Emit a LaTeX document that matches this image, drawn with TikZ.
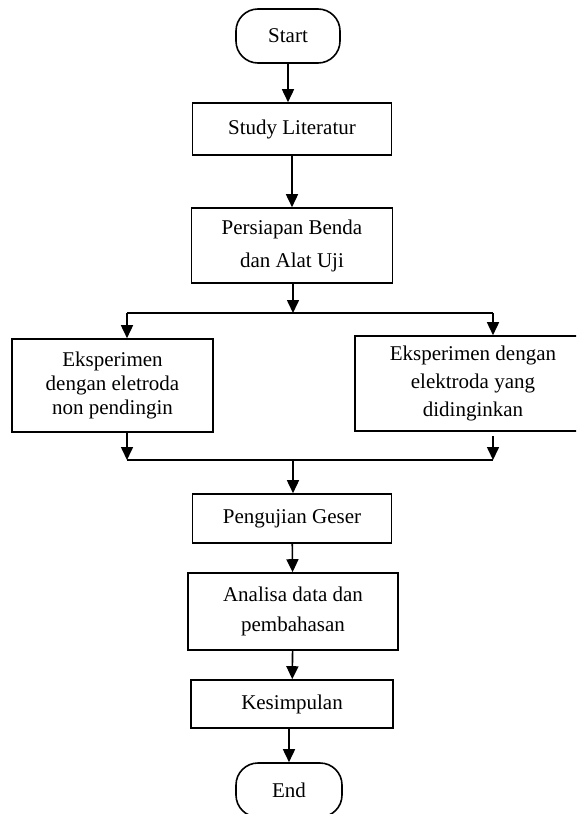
\documentclass[tikz,border=0pt]{standalone}
\usepackage{fontspec}
\setmainfont{Liberation Serif}
\usetikzlibrary{arrows.meta}

\begin{document}
\begin{tikzpicture}[x=1pt,y=-1pt,
    every node/.style={font=\fontsize{21}{24}\selectfont},
    proc/.style={draw,line width=1.6pt,rectangle,align=center,inner sep=0pt},
    term/.style={proc,rounded corners=22pt},
    link/.style={line width=1.6pt},
    flow/.style={link,-{Triangle[length=13pt,width=12pt]}}]
  \useasboundingbox (0,0) rectangle (576,814);
  \clip (0,0) rectangle (576,814);

  \node[term,minimum width=104pt,minimum height=54pt] (start) at (288,36) {Start};
  \node[proc,minimum width=199pt,minimum height=52pt] (study) at (292,129) {Study Literatur};
  \node[proc,minimum width=201pt,minimum height=75pt,font=\fontsize{21}{33}\selectfont] (prep) at (292,245.5) {Persiapan Benda\\dan Alat Uji};
  \node[proc,minimum width=201pt,minimum height=93pt] (expa) at (112.5,385.5) {Eksperimen\\dengan eletroda\\non pendingin};
  \node[proc,minimum width=236pt,minimum height=95pt,font=\fontsize{21}{28}\selectfont] (expb) at (473,383.5) {Eksperimen dengan\\elektroda yang\\didinginkan};
  \node[proc,minimum width=199pt,minimum height=49pt] (test) at (292,518.5) {Pengujian Geser};
  \node[proc,minimum width=210pt,minimum height=77pt,font=\fontsize{21}{30}\selectfont] (anal) at (293,611.5) {Analisa data dan\\pembahasan};
  \node[proc,minimum width=202pt,minimum height=48pt] (concl) at (292,704) {Kesimpulan};
  \node[term,minimum width=106pt,minimum height=54pt] (end) at (289,790) {End};

  \coordinate (split) at (293,313);
  \coordinate (sl) at (127,313);
  \coordinate (sr) at (493,313);
  \coordinate (mid) at (293,460);
  \coordinate (ml) at (127,460);
  \coordinate (mr) at (493,460);
  \coordinate (mr0) at (493,436);

  \draw[flow] (start.south) -- (start.south |- study.north);
  \draw[flow] (study.south) -- (prep.north);
  \draw[flow] (prep.south -| split) -- (split);
  \draw[link] (sl) -- (sr);
  \draw[flow] (sl) -- (sl |- expa.north);
  \draw[flow] (sr) -- (sr |- expb.north);
  \draw[flow] (sl |- expa.south) -- (ml);
  \draw[flow] (mr0) -- (mr);
  \draw[link] (ml) -- (mr);
  \draw[flow] (mid) -- (mid |- test.north);
  \draw[flow] (test) -- (anal);
  \draw[flow] (anal) -- (concl);
  \draw[flow] (concl.south -| end) -- (end.north);
\end{tikzpicture}
\end{document}
